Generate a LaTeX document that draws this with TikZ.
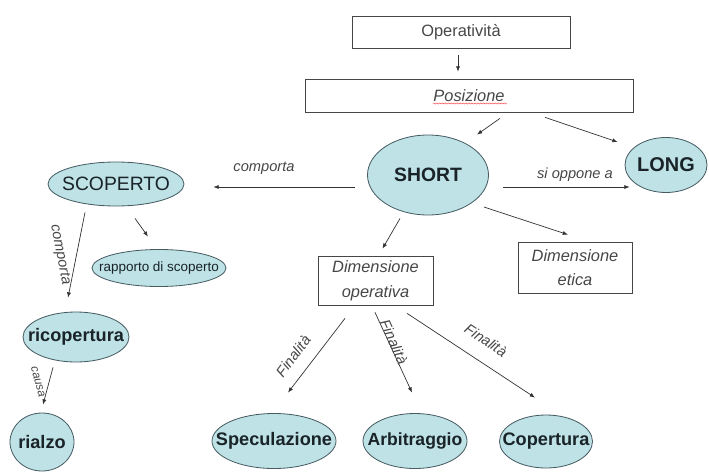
\documentclass[tikz,border=0pt]{standalone}
\usepackage{fontspec}
\setmainfont{Liberation Sans}
\usetikzlibrary{shapes.geometric,arrows.meta,calc,decorations.pathmorphing}
\definecolor{azzurro}{RGB}{190,226,230}
\definecolor{bordo}{RGB}{70,92,98}
\definecolor{testo}{RGB}{25,35,40}
\definecolor{grigio}{RGB}{70,70,70}

\begin{document}
\begin{tikzpicture}[x=0.03cm, y=-0.03cm,
	ovale/.style={ellipse, draw=bordo, fill=azzurro, line width=0.7pt, inner sep=0pt, text=testo},
	riquadro/.style={draw=grigio, line width=0.6pt, align=center, inner sep=0pt, text=grigio},
	freccia/.style={-{Latex[length=4.5pt,width=3.5pt]}, draw=black!80, line width=0.6pt},
	etichetta/.style={font=\fontsize{12.5}{14}\selectfont\itshape, text=grigio, inner sep=0pt}]
		\useasboundingbox (0,0) rectangle (709,474);

		% Riquadri
		\node[riquadro, minimum width=6.54cm, minimum height=0.96cm, font=\fontsize{14}{16}\selectfont] (op) at (461,32) {Operatività};
		\node[riquadro, minimum width=9.84cm, minimum height=0.99cm, font=\fontsize{14}{16}\selectfont\itshape] (pos) at (469,95.5) {Posizione};
		\node[riquadro, minimum width=3.45cm, minimum height=1.47cm, font=\fontsize{14}{21}\selectfont\itshape] (dimop) at (375.5,280.5) {Dimensione\\operativa};
		\node[riquadro, minimum width=3.42cm, minimum height=1.53cm, font=\fontsize{14}{21}\selectfont\itshape] (dimet) at (575,267.5) {Dimensione\\etica};

		% Ovali
		\node[ovale, minimum width=3.63cm, minimum height=2.4cm, font=\fontsize{16.5}{18}\selectfont\bfseries] (short) at (428,175) {\makebox[0pt]{SHORT}};
		\node[ovale, minimum width=2.46cm, minimum height=1.65cm, font=\fontsize{17}{18}\selectfont\bfseries] (long) at (666,165) {\makebox[0pt]{LONG}};
		\node[ovale, minimum width=4.08cm, minimum height=1.32cm, font=\fontsize{16.5}{18}\selectfont] (scop) at (116,184) {\makebox[0pt]{SCOPERTO}};
		\node[ovale, minimum width=4.02cm, minimum height=1.11cm, font=\fontsize{11.5}{13}\selectfont] (rapp) at (159,268) {\makebox[0pt]{rapporto di scoperto}};
		\node[ovale, minimum width=3.18cm, minimum height=1.5cm, font=\fontsize{15.5}{17}\selectfont\bfseries] (ricop) at (76,337) {\makebox[0pt]{ricopertura}};
		\node[ovale, minimum width=1.92cm, minimum height=1.74cm, font=\fontsize{15.5}{17}\selectfont\bfseries] (rialzo) at (42,442) {\makebox[0pt]{rialzo}};
		\node[ovale, minimum width=3.72cm, minimum height=1.65cm, font=\fontsize{15.5}{17}\selectfont\bfseries] (spec) at (274,441) {\makebox[0pt]{Speculazione}};
		\node[ovale, minimum width=3.12cm, minimum height=1.65cm, font=\fontsize{15}{17}\selectfont\bfseries] (arb) at (415,441) {\makebox[0pt]{Arbitraggio}};
		\node[ovale, minimum width=2.79cm, minimum height=1.59cm, font=\fontsize{15.5}{17}\selectfont\bfseries] (cop) at (546,441.5) {\makebox[0pt]{Copertura}};

		% Frecce
		\draw[freccia] ($(op.south)+(-3,7)$) -- ($(op.south |- pos.north)+(-3,-7)$);
		\draw[freccia] ($(pos.south)+(31,6)$) -- ($(short.north)+(49,0)$);
		\draw[freccia] ($(pos.south)+(76,5)$) -- ($(long.west)+(-7,-23)$);
		\draw[freccia] ($(short.east)+(14,12)$) -- ($(long.west)+(5,22)$);
		\draw[freccia] ($(short.west)+(-12,12)$) -- ($(scop.east)+(29,3)$);
		\draw[freccia] ($(short.south)+(-28,3)$) -- ($(dimop.north)+(7,-7)$);
		\draw[freccia] ($(short.east)+(-5,32)$) -- ($(dimet.north)+(-7,-7)$);
		\draw[freccia] ($(scop.south)+(19,12)$) -- ($(rapp.north)+(-11,-12.5)$);
		\draw[freccia] ($(scop.south)+(-31,6)$) -- ($(ricop.north)+(-8,-14)$);
		\draw[freccia] ($(ricop.south)+(-23,5)$) -- ($(rialzo.north)+(1,-8)$);
		\draw[freccia] ($(dimop.south)+(-30.5,13)$) -- ($(spec.north)+(14,-20.5)$);
		\draw[freccia] ($(dimop.south)+(-0.5,7)$) -- ($(arb.north)+(-3,-20.5)$);
		\draw[freccia] ($(dimop.south)+(31.5,8)$) -- ($(cop.north)+(-11,-17)$);

		% Etichette
		\node[etichetta] (lcomp) at (264,168) {comporta};
		\node[etichetta] (lopp) at (575,175) {si oppone a};
		\node[etichetta, rotate=-79] (lcomp2) at (60,255) {comporta};
		\node[etichetta, rotate=-75, font=\fontsize{10}{11}\selectfont\itshape] (lcausa) at (38,382) {causa};
		\node[etichetta, rotate=53] (lfin1) at (293,356) {Finalità};
		\node[etichetta, rotate=-66] (lfin2) at (394,342) {Finalità};
		\node[etichetta, rotate=-34] (lfin3) at (486,340) {Finalità};

		% sottolineatura
		\draw[red!75, line width=0.4pt, decorate, decoration={snake, amplitude=0.5pt, segment length=2.5pt}] ($(pos.center)+(-36,8)$) -- ($(pos.center)+(38,8)$);

	\end{tikzpicture}
\end{document}
